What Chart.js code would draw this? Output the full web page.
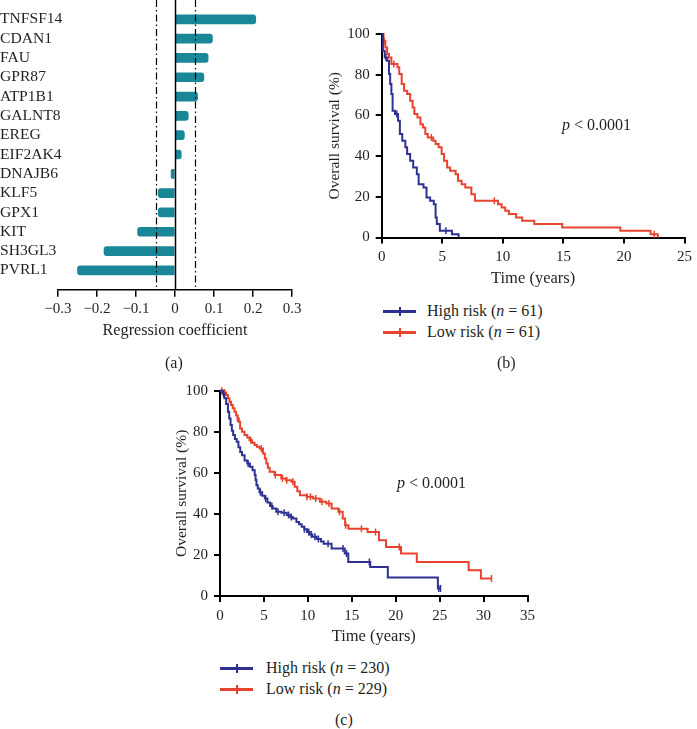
<!DOCTYPE html>
<html>
<head>
<meta charset="utf-8">
<script src="https://cdn.jsdelivr.net/npm/chart.js@4.4.1/dist/chart.umd.min.js"></script>
<style>
  body { margin: 0; background: #fff; width: 697px; height: 729px; position: relative; overflow: hidden;
         font-family: "Liberation Serif", "DejaVu Serif", serif; color: #231f20; }
  canvas { position: absolute; }
  .txt { position: absolute; font-size: 16px; line-height: 16px; white-space: nowrap; }
  .key { position: absolute; height: 3px; }
  .key span { position: absolute; left: 50%; top: -3px; width: 2px; height: 9px; margin-left: -1px; }
</style>
</head>
<body>
<canvas id="chartA" width="310" height="354" style="left:0;top:-14px"></canvas>
<canvas id="chartB" width="387" height="289" style="left:310px;top:0"></canvas>
<canvas id="chartC" width="370" height="287" style="left:170px;top:360px"></canvas>

<div class="txt" style="left:562px;top:117px"><i>p</i> &lt; 0.0001</div>
<div class="key" style="left:383px;top:310px;width:33px;background:#2e3192"><span style="background:#2e3192"></span></div>
<div class="txt" style="left:427px;top:303px">High risk (<i>n</i> = 61)</div>
<div class="key" style="left:383px;top:331px;width:33px;background:#e8432e"><span style="background:#e8432e"></span></div>
<div class="txt" style="left:427px;top:324px">Low risk (<i>n</i> = 61)</div>

<div class="txt" style="left:397px;top:475px"><i>p</i> &lt; 0.0001</div>
<div class="key" style="left:220px;top:667px;width:33px;background:#2e3192"><span style="background:#2e3192"></span></div>
<div class="txt" style="left:266px;top:660px">High risk (<i>n</i> = 230)</div>
<div class="key" style="left:220px;top:688px;width:33px;background:#e8432e"><span style="background:#e8432e"></span></div>
<div class="txt" style="left:266px;top:681px">Low risk (<i>n</i> = 229)</div>

<div class="txt" style="left:165px;top:355px">(a)</div>
<div class="txt" style="left:497px;top:355px">(b)</div>
<div class="txt" style="left:335px;top:712px">(c)</div>

<script>
// ---- data -------------------------------------------------------
// (a) regression coefficients
const genes = ['TNFSF14', 'CDAN1', 'FAU', 'GPR87', 'ATP1B1', 'GALNT8', 'EREG',
               'EIF2AK4', 'DNAJB6', 'KLF5', 'GPX1', 'KIT', 'SH3GL3', 'PVRL1'];
const coefs = [0.207, 0.096, 0.085, 0.074, 0.058, 0.034, 0.024,
               0.016, -0.010, -0.043, -0.043, -0.096, -0.182, -0.250];
const cutoffs = [-0.05, 0.05];
const coefTicks = [-0.3, -0.2, -0.1, 0, 0.1, 0.2, 0.3];

// (b) training set, Kaplan-Meier steps (years, % surviving)
const timeB_high = [0, 0.1, 0.25, 0.45, 0.6, 0.7, 0.8, 0.9, 1.1, 1.35, 1.5, 1.7, 1.95, 2.1,
                    2.35, 2.6, 2.9, 3.05, 3.45, 3.7, 4.0, 4.3, 4.45, 4.55, 4.8, 5.8, 6.35];
const survB_high = [100, 91.8, 88.5, 86.9, 80.3, 75.4, 70.5, 62.3, 60.7, 57.4, 50.8, 47.5, 44.3, 41.0,
                    37.7, 34.4, 31.1, 26.2, 24.6, 19.7, 18.0, 16.4, 9.8, 6.6, 3.3, 1.6, 0];
const censB_high = [0.35, 1.25, 5.3];
const timeB_low = [0, 0.15, 0.3, 0.45, 0.6, 0.8, 1.3, 1.45, 1.65, 1.85, 2.1, 2.35, 2.55, 2.7, 2.95,
                   3.2, 3.4, 3.6, 3.8, 4.25, 4.45, 4.7, 4.95, 5.15, 5.4, 5.65, 6.1, 6.3, 6.6, 6.9,
                   7.4, 7.7, 9.6, 9.9, 10.2, 10.5, 11.1, 11.6, 12.6, 14.9, 19.7, 22.2, 22.8];
const survB_low = [100, 96.7, 93.4, 90.2, 88.5, 85.2, 83.6, 80.3, 75.4, 72.1, 70.5, 67.2, 63.9, 60.7, 59.0,
                   55.7, 54.1, 50.8, 49.2, 47.5, 45.9, 44.3, 41.0, 37.7, 34.4, 32.8, 31.1, 27.9, 26.2, 24.6,
                   21.3, 18.0, 16.4, 14.8, 13.1, 11.5, 9.8, 8.2, 6.6, 4.9, 3.3, 1.6, 0];
const censB_low = [0.2, 1.0, 4.1, 9.3, 22.5];
const yearTicksB = [0, 5, 10, 15, 20, 25];

// (c) validation set
const timeC_high = [0, 0.3, 0.5, 0.7, 0.9, 1.05, 1.2, 1.35, 1.5, 1.7, 1.9, 2.1, 2.3, 2.5, 2.8, 3.1, 3.4,
                    3.7, 3.95, 4.05, 4.15, 4.3, 4.5, 4.8, 5.1, 5.4, 5.7, 6.0, 6.4, 7.0, 7.6, 8.0, 8.3,
                    8.7, 9.0, 9.3, 9.6, 9.9, 10.2, 10.5, 11.0, 11.5, 11.8, 12.7, 14.2, 14.6, 17.1, 19.1,
                    24.8, 25.1];
const survC_high = [100, 98.5, 96.3, 93.5, 89.8, 86.5, 83.3, 80.5, 78.4, 76.5, 75.1, 72.5, 70.2, 68.6, 66.0,
                    64.5, 63.0, 61.3, 58.9, 56.5, 54.0, 52.4, 50.5, 48.8, 47.5, 45.5, 43.8, 42.6, 41.0, 40.5,
                    39.5, 38.5, 37.7, 36.1, 35.0, 33.7, 32.5, 31.2, 30.0, 28.8, 27.8, 26.5, 25.5, 23.1, 20.7,
                    16.6, 14.1, 9.0, 3.6, 3.6];
const censC_high = [0.4, 3.2, 4.6, 5.2, 5.9, 6.6, 7.3, 7.8, 8.1, 9.6, 10.1, 10.4, 10.8, 11.2, 12.3,
                    14.0, 14.4, 17.0, 24.9, 25.1];
const timeC_low = [0, 0.5, 0.7, 0.9, 1.07, 1.25, 1.45, 1.65, 1.83, 2.0, 2.14, 2.29, 2.5, 2.79, 3.1, 3.36,
                   3.65, 3.93, 4.2, 4.5, 4.89, 5.1, 5.27, 5.45, 5.65, 6.2, 6.98, 7.5, 8.13, 8.5, 8.8, 9.1,
                   9.85, 10.6, 11.37, 12.1, 12.7, 13.47, 13.97, 14.24, 14.62, 16.8, 18.1, 18.9, 20.6, 22.4,
                   28.3, 29.7, 30.9];
const survC_low = [100, 99.1, 97.9, 96.3, 94.6, 93.0, 91.4, 89.7, 88.1, 86.5, 84.9, 81.6, 80.0, 78.4, 77.2,
                   75.9, 74.7, 73.5, 72.7, 71.9, 69.4, 67.0, 64.6, 62.5, 60.5, 58.9, 57.2, 56.4, 55.6, 53.2,
                   51.0, 49.1, 48.3, 47.5, 45.9, 45.0, 42.6, 41.0, 37.7, 34.5, 32.8, 31.2, 27.2, 23.9, 20.7,
                   16.6, 12.5, 8.5, 8.5];
const censC_low = [0.2, 0.5, 2.0, 3.5, 4.7, 6.3, 7.1, 7.6, 8.3, 9.9, 10.3, 10.9, 11.6, 12.4, 13.6,
                   14.3, 16.1, 17.7, 20.4, 30.9];
const yearTicksC = [0, 5, 10, 15, 20, 25, 30, 35];

const survTicks = [0, 20, 40, 60, 80, 100];

// ---- styles -----------------------------------------------------
const TEAL = '#1a8799', HIGH = '#2e3192', LOW = '#e8432e', INK = '#231f20';
const SERIF = '"Liberation Serif", "DejaVu Serif", serif';

function fmtCoef(v) {
  if (Math.abs(v) < 1e-9) return '0';
  return (v < 0 ? '\u2212' : '') + Math.abs(v).toFixed(1);
}

// ================================================================
//  (a) coefficient bars
// ================================================================
const refLines = {
  id: 'refLines',
  afterDatasetsDraw(chart) {
    const { ctx, chartArea: { top, bottom }, scales: { x } } = chart;
    ctx.save();
    ctx.strokeStyle = '#000';
    ctx.lineWidth = 1.5;
    const x0 = Math.round(x.getPixelForValue(0)) + 0.5;
    ctx.beginPath(); ctx.moveTo(x0, top); ctx.lineTo(x0, bottom); ctx.stroke();
    ctx.lineWidth = 1.2;
    ctx.setLineDash([7, 3, 1.5, 3]);
    cutoffs.forEach(c => {
      const px = Math.round(x.getPixelForValue(c)) + 0.5;
      ctx.beginPath(); ctx.moveTo(px, top); ctx.lineTo(px, bottom); ctx.stroke();
    });
    ctx.restore();
  }
};

new Chart(document.getElementById('chartA'), {
  type: 'bar',
  data: {
    datasets: [{
      data: genes.map((g, i) => ({ x: coefs[i], y: i })),
      backgroundColor: TEAL,
      barThickness: 9,
      borderRadius: 3
    }]
  },
  options: {
    indexAxis: 'y',
    responsive: false,
    animation: false,
    layout: { padding: { top: 14, right: 18, bottom: 0, left: 0 } },
    plugins: { legend: { display: false }, tooltip: { enabled: false } },
    scales: {
      x: {
        type: 'linear', min: -0.3, max: 0.3,
        afterBuildTicks: s => { s.ticks = coefTicks.map(v => ({ value: v })); },
        afterFit: s => { s.height = 50.3; },
        border: { display: true, color: '#000', width: 1.5 },
        grid: { display: true, drawOnChartArea: false, drawTicks: true, tickLength: 7, color: '#000', lineWidth: 1.5 },
        ticks: { color: INK, padding: 3, font: { family: SERIF, size: 15 }, callback: v => fmtCoef(v) },
        title: { display: true, text: 'Regression coefficient', color: INK,
                 font: { family: SERIF, size: 16.2 }, padding: { top: 0, bottom: 0 } }
      },
      y: {
        type: 'linear', reverse: true, min: -1, max: 14, offset: false,
        afterBuildTicks: s => { s.ticks = genes.map((g, i) => ({ value: i })); },
        afterFit: s => {
          s.width = 58;
          // gene names run past the axis box into the plot, as in the figure
          s._computeLabelArea = () => undefined;
        },
        border: { display: false },
        grid: { display: false, offset: false },
        ticks: { color: INK, crossAlign: 'far', autoSkip: false, font: { family: SERIF, size: 15.6 },
                 callback: v => genes[v] }
      }
    }
  },
  plugins: [refLines]
});

// ================================================================
//  (b), (c) Kaplan-Meier curves
// ================================================================
function survAt(times, surv, t) {
  let s = surv[0];
  for (let i = 0; i < times.length; i++) {
    if (times[i] <= t) s = surv[i]; else break;
  }
  return s;
}

function stepLine(times, surv, color) {
  return {
    data: times.map((t, i) => ({ x: t, y: surv[i] })),
    borderColor: color, borderWidth: 2, stepped: 'before',
    pointRadius: 0, fill: false, clip: 4
  };
}

function censorMarks(cens, times, surv, color) {
  return {
    data: cens.map(t => ({ x: t, y: survAt(times, surv, t) })),
    showLine: false, pointStyle: 'line', pointRotation: 90, pointRadius: 3.5,
    pointBorderColor: color, pointBorderWidth: 1.5, clip: 6
  };
}

function kmChart(id, o) {
  const axisBorder = { display: true, color: '#000', width: 2 };
  const axisGrid = { display: true, drawOnChartArea: false, drawTicks: true, tickLength: 6, color: '#000', lineWidth: 2 };
  return new Chart(document.getElementById(id), {
    type: 'line',
    data: {
      datasets: [
        stepLine(o.high[0], o.high[1], HIGH),
        censorMarks(o.high[2], o.high[0], o.high[1], HIGH),
        stepLine(o.low[0], o.low[1], LOW),
        censorMarks(o.low[2], o.low[0], o.low[1], LOW)
      ]
    },
    options: {
      responsive: false,
      animation: false,
      layout: { padding: o.pad },
      plugins: { legend: { display: false }, tooltip: { enabled: false } },
      scales: {
        x: {
          type: 'linear', min: 0, max: o.xMax,
          afterBuildTicks: s => { s.ticks = o.xTicks.map(v => ({ value: v })); },
          afterFit: s => { s.height = o.xH; },
          border: axisBorder, grid: axisGrid,
          ticks: { color: INK, padding: 5, font: { family: SERIF, size: 15 } },
          title: { display: true, text: 'Time (years)', color: INK,
                   font: { family: SERIF, size: 16.5 }, padding: { top: 0, bottom: 0 } }
        },
        y: {
          type: 'linear', min: 0, max: 100,
          afterBuildTicks: s => { s.ticks = survTicks.map(v => ({ value: v })); },
          afterFit: s => { s.width = o.yW; },
          border: axisBorder, grid: axisGrid,
          ticks: { color: INK, padding: 6, font: { family: SERIF, size: 15 } },
          title: { display: true, text: 'Overall survival (%)', color: INK,
                   font: { family: SERIF, size: 15.5 }, padding: { top: 0, bottom: 0 } }
        }
      }
    }
  });
}

kmChart('chartB', {
  high: [timeB_high, survB_high, censB_high],
  low: [timeB_low, survB_low, censB_low],
  xMax: 25, xTicks: yearTicksB,
  pad: { top: 34, right: 8, bottom: 0, left: 16 }, yW: 55.7, xH: 51.5
});

kmChart('chartC', {
  high: [timeC_high, survC_high, censC_high],
  low: [timeC_low, survC_low, censC_low],
  xMax: 35, xTicks: yearTicksC,
  pad: { top: 30.7, right: 12, bottom: 0, left: 3 }, yW: 47, xH: 51
});
</script>
</body>
</html>
